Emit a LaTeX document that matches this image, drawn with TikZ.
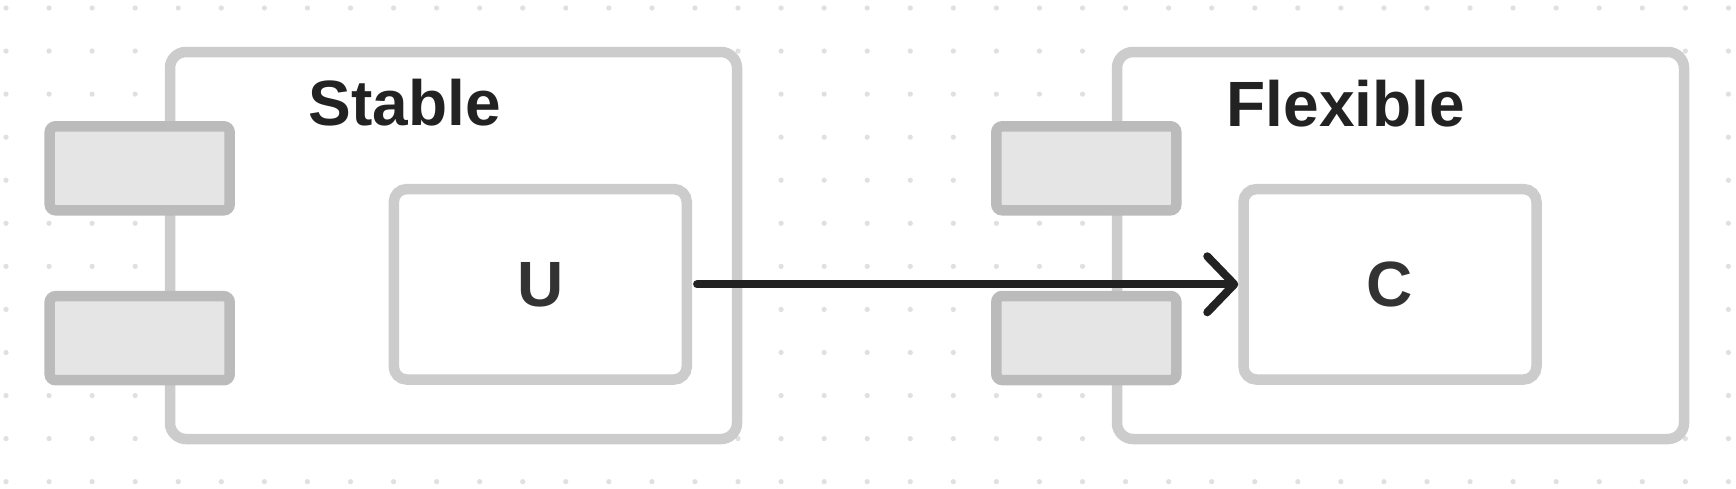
\documentclass[tikz,border=0pt]{standalone}
\usepackage[table]{xcolor}
\usepackage{fontspec}
\setmainfont{Liberation Sans}
\usepackage{tikz}
\usetikzlibrary{arrows.meta}

\definecolor{boxline}{HTML}{CCCCCC}
\definecolor{portline}{HTML}{BBBBBB}
\definecolor{portfill}{HTML}{E5E5E5}
\definecolor{ink}{HTML}{222222}
\definecolor{softink}{HTML}{333333}
\definecolor{dotgrey}{HTML}{E0E0E0}

\begin{document}
\begin{tikzpicture}[x=10pt, y=-10pt,
		frame/.style={draw=boxline, fill=white, line width=10.5pt, rounded corners=16pt, inner sep=0pt, minimum width=567pt, minimum height=387pt},
		part/.style={draw=boxline, fill=white, line width=10.5pt, rounded corners=13pt, inner sep=0pt, minimum width=293pt, minimum height=190.5pt, text=softink, font=\fontsize{64}{70}\selectfont\bfseries},
		port/.style={draw=portline, fill=portfill, line width=10.5pt, rounded corners=6pt, inner sep=0pt, minimum width=180pt, minimum height=84pt},
		title/.style={text=ink, anchor=base, inner sep=0pt, font=\fontsize{64}{70}\selectfont\bfseries},
		link/.style={draw=ink, line width=8pt, line cap=round, -{Straight Barb[length=27pt, width=56pt, line join=round, line cap=round]}}]
		\useasboundingbox (0.00,0.00) rectangle (173.60,48.80);
		\fill[white] (0.00,0.00) rectangle (173.60,48.80);
		% dot grid
		\foreach \i in {0,...,40}
			\foreach \j in {0,...,11}
				\fill[dotgrey] ({0.60+4.306*\i},{0.80+4.306*\j}) circle (2.6pt);
		% outer frames
		\node[frame] (stable) at (45.35,24.55) {};
		\node[frame] (flexible) at (140.05,24.55) {};
		% ports
		\node[port] (stableportA) at (13.97,16.83) {};
		\node[port] (stableportB) at (13.97,33.82) {};
		\node[port] (flexportA) at (108.63,16.83) {};
		\node[port] (flexportB) at (108.63,33.80) {};
		% inner parts
		\node[part] (u) at (54.03,28.43) {U};
		\node[part] (c) at (139.00,28.43) {C};
		% titles
		\node[title] (stabletitle) at (40.50,12.50) {Stable};
		\node[title] (flexibletitle) at (134.60,12.60) {Flexible};
		% dependency
		\draw[link, shorten <=5pt] (u.east) -- (c.west);
	\end{tikzpicture}
\end{document}
